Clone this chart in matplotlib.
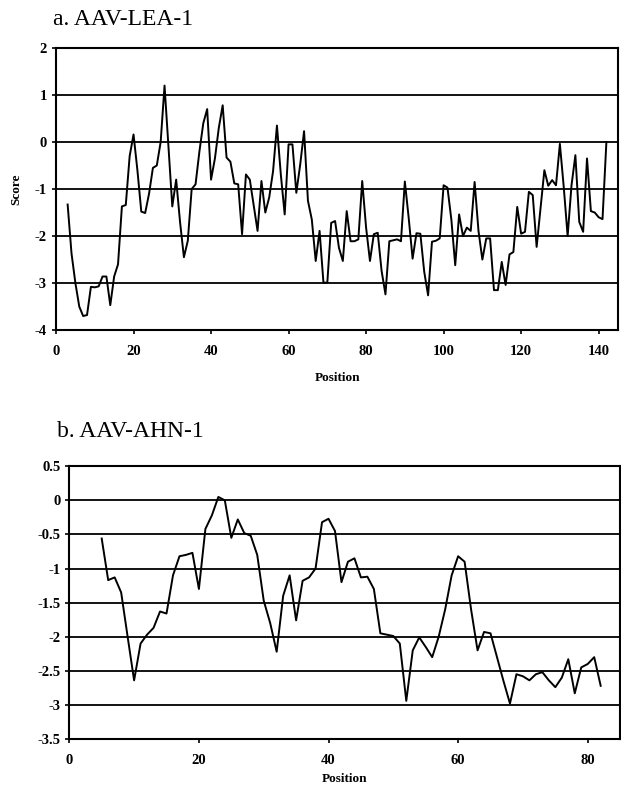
import numpy as np
import matplotlib.pyplot as plt

plt.rcParams['font.family'] = ['Liberation Serif', 'DejaVu Serif']
plt.rcParams['axes.unicode_minus'] = False

# panel a: AAV-LEA-1, positions 3..142
lea_pos = list(range(3, 143))
lea_score = [
    -1.33, -2.37, -3.0, -3.5, -3.7, -3.68, -3.08, -3.09, -3.07, -2.86,   # 3-12
    -2.86, -3.47, -2.86, -2.6, -1.37, -1.34, -0.3, 0.16, -0.6, -1.48,    # 13-22
    -1.51, -1.1, -0.55, -0.5, 0.0, 1.2, -0.1, -1.37, -0.8, -1.7,         # 23-32
    -2.45, -2.1, -1.0, -0.9, -0.2, 0.4, 0.7, -0.8, -0.35, 0.3,           # 33-42
    0.78, -0.33, -0.42, -0.88, -0.9, -1.96, -0.69, -0.8, -1.35, -1.89,   # 43-52
    -0.83, -1.5, -1.18, -0.62, 0.35, -0.69, -1.54, -0.05, -0.05, -1.08,  # 53-62
    -0.48, 0.23, -1.25, -1.65, -2.53, -1.89, -2.99, -2.99, -1.72, -1.68, # 63-72
    -2.25, -2.53, -1.47, -2.11, -2.11, -2.07, -0.83, -1.82, -2.53, -1.96,  # 73-82
    -1.93, -2.74, -3.24, -2.11, -2.09, -2.07, -2.11, -0.84, -1.62, -2.48,  # 83-92
    -1.94, -1.95, -2.76, -3.26, -2.12, -2.1, -2.05, -0.92, -0.97, -1.65,   # 93-102
    -2.62, -1.54, -2.0, -1.82, -1.89, -0.85, -1.89, -2.5, -2.05, -2.05,    # 103-112
    -3.15, -3.15, -2.55, -3.04, -2.39, -2.34, -1.38, -1.95, -1.91, -1.06,  # 113-122
    -1.13, -2.23, -1.41, -0.6, -0.93, -0.81, -0.92, -0.04, -0.96, -2.0,    # 123-132
    -0.92, -0.28, -1.7, -1.91, -0.35, -1.47, -1.5, -1.6, -1.64, 0.0,       # 133-142
]

# panel b: AAV-AHN-1, positions 5..82
ahn_pos = list(range(5, 83))
ahn_score = [
    -0.56, -1.17, -1.13, -1.35, -2.0, -2.64, -2.1, -1.97, -1.87, -1.63,   # 5-14
    -1.66, -1.1, -0.82, -0.8, -0.77, -1.3, -0.42, -0.22, 0.05, 0.0,       # 15-24
    -0.55, -0.28, -0.48, -0.52, -0.8, -1.47, -1.8, -2.22, -1.4, -1.1,     # 25-34
    -1.76, -1.18, -1.13, -1.0, -0.32, -0.27, -0.45, -1.2, -0.9, -0.85,    # 35-44
    -1.13, -1.12, -1.3, -1.95, -1.97, -1.99, -2.1, -2.94, -2.2, -2.01,    # 45-54
    -2.15, -2.3, -2.0, -1.6, -1.1, -0.82, -0.9, -1.6, -2.2, -1.93,        # 55-64
    -1.95, -2.3, -2.65, -2.98, -2.55, -2.58, -2.64, -2.55, -2.52, -2.64,  # 65-74
    -2.74, -2.6, -2.33, -2.83, -2.45, -2.4, -2.3, -2.72,                  # 75-82
]

lea_yticks = [2, 1, 0, -1, -2, -3, -4]
ahn_yticks = [0.5, 0, -0.5, -1, -1.5, -2, -2.5, -3, -3.5]
ahn_ylabels = ['0.5', '0', '-0.5', '-1', '-1.5', '-2', '-2.5', '-3', '-3.5']


def style_axes(ax, yticks, ylabels, xmax, xticks, xlabelpad):
    ax.set_yticks(yticks)
    ax.set_yticklabels(ylabels)
    ax.set_ylim(min(yticks), max(yticks))
    ax.set_xlim(0, xmax)
    ax.set_xticks(xticks)
    for y in yticks:
        ax.axhline(y, color='black', lw=1.3, zorder=1)
    for s in ax.spines.values():
        s.set_linewidth(1.5)
    ax.tick_params(direction='out', length=3, width=1.2, labelsize=10.5)
    ax.tick_params(axis='x', pad=8)
    for lab in ax.get_xticklabels() + ax.get_yticklabels():
        lab.set_fontweight('bold')
    ax.set_xlabel('Position', fontsize=9.5, fontweight='bold', labelpad=xlabelpad)


fig = plt.figure(figsize=(6.21, 7.86), dpi=100)

ax1 = fig.add_axes([0.0902, 0.580, 0.905, 0.359])
ax1.plot(lea_pos, lea_score, color='black', lw=1.4, zorder=3, solid_joinstyle='round')
style_axes(ax1, lea_yticks, [str(v) for v in lea_yticks], 145, range(0, 141, 20), 10)
ax1.set_ylabel('Score', fontsize=9.5, fontweight='bold', labelpad=9)
fig.text(0.085, 0.988, 'a. AAV-LEA-1', fontsize=17, va='top', ha='left')

ax2 = fig.add_axes([0.1116, 0.0598, 0.887, 0.347])
ax2.plot(ahn_pos, ahn_score, color='black', lw=1.4, zorder=3, solid_joinstyle='round')
style_axes(ax2, ahn_yticks, ahn_ylabels, 85, range(0, 81, 20), 4)
fig.text(0.092, 0.465, 'b. AAV-AHN-1', fontsize=17, va='top', ha='left')

fig.savefig('out.png', dpi=100)
